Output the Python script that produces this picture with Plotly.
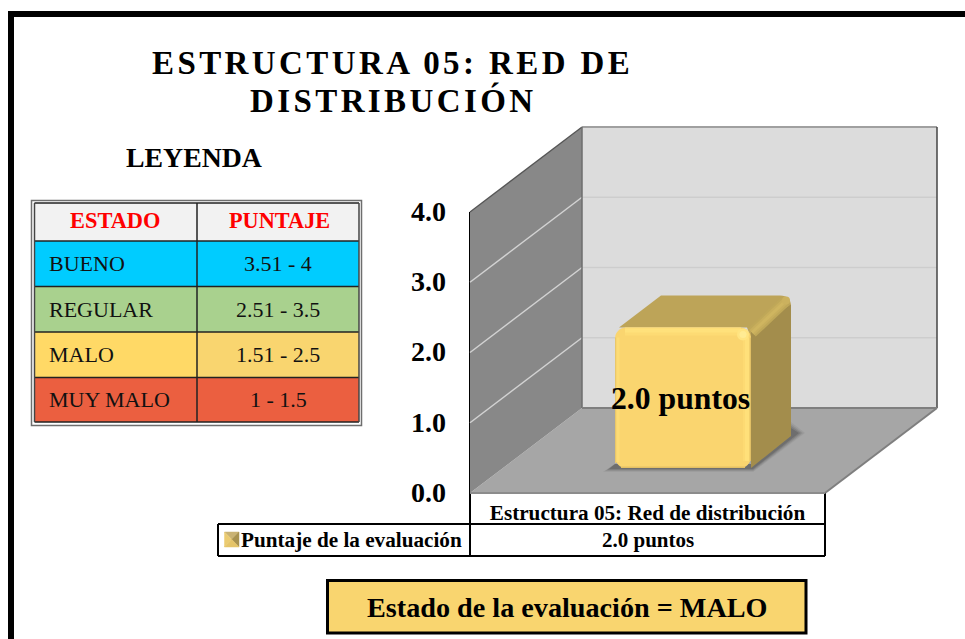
import plotly.graph_objects as go

# ---- data ----
category = ["Estructura 05: Red de distribución"]
values = [2.0]
value_ticks = [0, 1, 2, 3, 4]
tick_labels = ["0.0", "1.0", "2.0", "3.0", "4.0"]
series_name = "Puntaje de la evaluación"
unit = "puntos"
legend_states = ["BUENO", "REGULAR", "MALO", "MUY MALO"]
legend_scores = ["3.51 - 4", "2.51 - 3.5", "1.51 - 2.5", "1 - 1.5"]
legend_left_colors = ["#00CCFF", "#A9D18E", "#FFD966", "#EB5F40"]
legend_right_colors = ["#00CCFF", "#A9D18E", "#F9D56F", "#EB5F40"]
status = "MALO"

W, H = 965, 639
FONT = "Liberation Serif"

# pixel <-> axis helpers
X0, Y0 = 470.0, 493.0       # front-left floor corner
CW = 355.0                  # pixels per category
YU = 70.25                  # pixels per value unit
CX = X0 + CW / 2
def ax(px): return (px - CX) / CW
def ay(py): return (Y0 - py) / YU
def fx(px): return px / W
def fy(py): return 1 - py / H

DX, DY = 112.0, 85.0        # floor depth in pixels
VMAX = 4

def poly_d(pts):
    return "M " + " L ".join(f"{ax(x):.5f},{ay(y):.5f}" for x, y in pts) + " Z"

shapes = []
def data_poly(pts, fill, line=None, lw=0, layer="below", opacity=1):
    shapes.append(dict(type="path", path=poly_d(pts), xref="x", yref="y", fillcolor=fill, layer=layer,
                       opacity=opacity, line=dict(color=line or fill, width=lw)))
def data_line(p, q, color, w, layer="below", opacity=1):
    shapes.append(dict(type="line", xref="x", yref="y", x0=ax(p[0]), y0=ay(p[1]), x1=ax(q[0]), y1=ay(q[1]),
                       layer=layer, opacity=opacity, line=dict(color=color, width=w)))
def rect(x0, y0, x1, y1, fill="rgba(0,0,0,0)", line="rgba(0,0,0,0)", w=0, layer="below"):
    shapes.append(dict(type="rect", xref="paper", yref="paper", x0=fx(x0), y0=fy(y0), x1=fx(x1), y1=fy(y1),
                       fillcolor=fill, layer=layer, line=dict(color=line, width=w)))
def pline(x0, y0, x1, y1, color="#000", w=2, layer="below"):
    shapes.append(dict(type="line", xref="paper", yref="paper", x0=fx(x0), y0=fy(y0), x1=fx(x1), y1=fy(y1),
                       layer=layer, line=dict(color=color, width=w)))
def dot(cx, cy, r, fill, layer="above"):
    shapes.append(dict(type="circle", xref="x", yref="y", x0=ax(cx - r), x1=ax(cx + r), y0=ay(cy + r), y1=ay(cy - r),
                       fillcolor=fill, layer=layer, line=dict(width=0)))

# frame
rect(8, 11, W + 20, H + 20, line="#000", w=0, fill="#000")
rect(14, 17, W + 20, H + 20, fill="#FFF")

# walls
h = VMAX * YU
XR = X0 + CW
data_poly([(X0, Y0), (X0 + DX, Y0 - DY), (XR + DX, Y0 - DY), (XR, Y0)], "#A6A6A6")
data_poly([(X0, Y0), (X0, Y0 - h), (X0 + DX, Y0 - DY - h), (X0 + DX, Y0 - DY)], "#888888")
data_poly([(X0 + DX, Y0 - DY), (X0 + DX, Y0 - DY - h), (XR + DX, Y0 - DY - h), (XR + DX, Y0 - DY)], "#DCDCDC")
for v in value_ticks[1:-1]:
    yy = Y0 - v * YU
    data_line((X0, yy), (X0 + DX, yy - DY), "#D2D2D2", 1.5)
    data_line((X0 + DX, yy - DY), (XR + DX, yy - DY), "#CDCDCD", 1.5)
data_line((X0, Y0 - h), (X0 + DX, Y0 - DY - h), "#555555", 1.3)
data_line((X0 + DX, Y0 - DY - h), (XR + DX, Y0 - DY - h), "#A0A0A0", 2)
data_line((X0 + DX, Y0 - DY - h), (X0 + DX, Y0 - DY), "#6E6E6E", 1.5)
data_line((XR + DX, Y0 - DY - h), (XR + DX, Y0 - DY), "#444444", 1.5)
data_line((X0 + DX, Y0 - DY), (XR + DX, Y0 - DY), "#7F7F7F", 2)
data_line((XR, Y0), (XR + DX, Y0 - DY), "#7F7F7F", 2)
data_line((X0, Y0), (XR, Y0), "#8C8C8C", 2)

# 3D bar: front face is the bar trace, top and side follow from the value
BAR_LEFT, BAR_RIGHT, BAR_BOTTOM = 615.0, 751.0, 468.0
BDX, BDY = 40.0, 32.0
base = ay(BAR_BOTTOM)
bar_x = ax((BAR_LEFT + BAR_RIGHT) / 2)
bar_w = (BAR_RIGHT - BAR_LEFT) / CW
bar_top = BAR_BOTTOM - values[0] * YU

# soft shadow
for grow, op in ((6, .10), (4, .16), (2, .22), (0, .30)):
    data_poly([(BAR_LEFT - 6 - grow, BAR_BOTTOM + 1 + grow / 2), (BAR_RIGHT + 2, BAR_BOTTOM + 1 + grow / 2),
               (BAR_RIGHT + BDX + 8 + grow, BAR_BOTTOM - BDY - 3), (BAR_RIGHT + BDX, BAR_BOTTOM - BDY - 8 - grow),
               (BAR_RIGHT, BAR_BOTTOM - 4), (BAR_LEFT, BAR_BOTTOM - 4)], "#4A4A4A", opacity=op)

# top and side
r = 11
top_d = (f"M {ax(BAR_LEFT+4):.5f},{ay(bar_top):.5f} L {ax(BAR_LEFT+BDX+6):.5f},{ay(bar_top-BDY):.5f} "
         f"L {ax(BAR_RIGHT+BDX-r):.5f},{ay(bar_top-BDY):.5f} Q {ax(BAR_RIGHT+BDX):.5f},{ay(bar_top-BDY):.5f} "
         f"{ax(BAR_RIGHT+BDX):.5f},{ay(bar_top-BDY+r):.5f} L {ax(BAR_RIGHT):.5f},{ay(bar_top+r):.5f} L {ax(BAR_RIGHT-4):.5f},{ay(bar_top):.5f} Z")
shapes.append(dict(type="path", path=top_d, xref="x", yref="y", fillcolor="#BDA458", layer="below", line=dict(width=0)))
data_poly([(BAR_RIGHT, bar_top + 4), (BAR_RIGHT + BDX, bar_top - BDY + 9), (BAR_RIGHT + BDX, BAR_BOTTOM - BDY),
           (BAR_RIGHT, BAR_BOTTOM)], "#A38D4C")
# ridge between top and side, soft
ridge_a, ridge_b = (BAR_RIGHT + 1, bar_top + 5), (BAR_RIGHT + BDX - 6, bar_top - BDY + 6)
data_line(ridge_a, ridge_b, "#BFA758", 11)
data_line(ridge_a, ridge_b, "#C8AE5C", 7)
data_line(ridge_a, ridge_b, "#CFB560", 3)
dot(BAR_RIGHT + BDX - 5, bar_top - BDY + 5, 4, "#CBB15E", layer="below")

# bevel highlights over the bar front
data_line((BAR_LEFT + 10, bar_top + 4), (BAR_RIGHT - 10, bar_top + 4), "#FDDB74", 8, layer="above")
data_line((BAR_LEFT + 10, bar_top + 3), (BAR_RIGHT - 10, bar_top + 3), "#FFE17B", 4, layer="above")
data_line((BAR_RIGHT - 4, bar_top + 10), (BAR_RIGHT - 4, BAR_BOTTOM - 7), "#FDDA73", 8, layer="above")
data_line((BAR_RIGHT - 4, bar_top + 10), (BAR_RIGHT - 4, BAR_BOTTOM - 7), "#FFE07A", 4, layer="above")
data_line((BAR_RIGHT - 0.7, bar_top + 10), (BAR_RIGHT - 0.7, BAR_BOTTOM - 7), "#E2C065", 1.4, layer="above")
data_line((BAR_LEFT + 0.7, bar_top + 10), (BAR_LEFT + 0.7, BAR_BOTTOM - 5), "#E9C76A", 1.4, layer="above")
data_line((BAR_LEFT + 3, bar_top + 10), (BAR_LEFT + 3, BAR_BOTTOM - 6), "#FDDC76", 3, layer="above")
data_line((BAR_LEFT + 6, BAR_BOTTOM - 0.7), (BAR_RIGHT - 6, BAR_BOTTOM - 0.7), "#E3C064", 1.4, layer="above")
dot(BAR_RIGHT - 8, bar_top + 7, 6, "#FFE481")
dot(BAR_RIGHT - 8, bar_top + 7, 3.5, "#FFEB93")

# value table below the chart
pline(X0, Y0, X0, 556, w=2)
pline(825, Y0, 825, 556, w=2)
pline(218, 524, 825, 524, w=2)
pline(218, 556, 825, 556, w=2)
pline(218, 524, 218, 556, w=2)
pline(X0, 212, X0, Y0, w=2)
# legend key
kx0, kx1, ky0, ky1 = 224.5, 239, 532, 547
kc, kyc = (kx0 + kx1) / 2, (ky0 + ky1) / 2
for pts, col in (
    ([(kx0, ky0), (kx1, ky0), (kc, kyc)], "#C9B273"),
    ([(kx0, ky0), (kx0, ky1), (kc, kyc)], "#EBCB70"),
    ([(kx1, ky0), (kx1, ky1), (kc, kyc)], "#A8924F"),
    ([(kx0, ky1), (kx1, ky1), (kc, kyc)], "#E5C468"),
):
    data_poly(pts, col, lw=0.5, layer="above")

# legend table
rect(31.5, 200.5, 361.5, 425.5, line="#6E6E6E", w=1.5)
LX0, LX1, LXM = 34.5, 359, 197
LY = [203, 241, 286.5, 332, 377.5, 422]
rect(LX0, LY[0], LX1, LY[1], fill="#F2F2F2")
for i in range(4):
    rect(LX0, LY[i + 1], LXM, LY[i + 2], fill=legend_left_colors[i])
    rect(LXM, LY[i + 1], LX1, LY[i + 2], fill=legend_right_colors[i])
for y in LY:
    pline(LX0, y, LX1, y, color="#222222", w=1.5)
pline(LX0, LY[0], LX0, LY[-1], color="#444444", w=1.5)
pline(LX1, LY[0], LX1, LY[-1], color="#444444", w=1.5)
pline(LXM, LY[0], LXM, LY[-1], color="#222222", w=1.5)

# status box
rect(327.5, 580.5, 806, 633, fill="#F9D56F", line="#000", w=3)

anns = []
def txt(s, x, y, size, bold=True, color="#000", anchor="center"):
    anns.append(dict(text=f"<b>{s}</b>" if bold else s, xref="paper", yref="paper", x=fx(x), y=fy(y), xanchor=anchor,
                     yanchor="middle", showarrow=False, font=dict(family=FONT, size=size, color=color)))

spaced = '<span style="letter-spacing:3.4px">{}</span>'
txt(spaced.format("ESTRUCTURA 05: RED DE"), 392.5, 63, 33)
txt(spaced.format("DISTRIBUCIÓN"), 393, 100, 33)
txt("LEYENDA", 194, 157.5, 27.8)
txt("ESTADO", 115, 220.5, 22.4, color="#FF0000")
txt("PUNTAJE", 279, 220.5, 22.3, color="#FF0000")
for i, (a, b) in enumerate(zip(legend_states, legend_scores)):
    yc = (LY[i + 1] + LY[i + 2]) / 2
    txt(a, 47, yc, 22, bold=False, color="#111", anchor="left")
    txt(b, 278, yc, 22, bold=False, color="#111")
txt(series_name, 239, 540, 21.2, anchor="left")
txt(f"{values[0]:.1f} {unit}", 647.5, 540, 21)
txt(f"Estado de la evaluación = {status}", 567, 607, 28.2)

# value label anchored to the bar via data coordinates
anns.append(dict(text=f"<b>{values[0]:.1f} {unit}</b>", xref="x", yref="y", x=bar_x, y=base + values[0] / 2,
                 xshift=-3, yshift=-1, yanchor="middle", xanchor="center", showarrow=False,
                 font=dict(family=FONT, size=31.7, color="#000")))

fig = go.Figure(go.Bar(x=[bar_x], y=values, base=[base], width=[bar_w], name=series_name,
                       marker=dict(color="#FAD56F", line=dict(width=0)),
                       hovertemplate="%{y:.1f} puntos<extra></extra>"))
fig.update_layout(
    width=W, height=H, margin=dict(l=0, r=0, t=0, b=0), autosize=False,
    paper_bgcolor="#FFFFFF", plot_bgcolor="rgba(0,0,0,0)", showlegend=False,
    barcornerradius=11, shapes=shapes, annotations=anns,
    xaxis=dict(domain=[0, 1], range=[ax(0), ax(W)], anchor="free", position=fy(Y0), side="bottom",
               tickmode="array", tickvals=[0], ticktext=[f"<b>{category[0]}</b>"],
               tickfont=dict(family=FONT, size=21.2, color="#000"), ticks="", ticklabelstandoff=5,
               showgrid=False, zeroline=False, showline=False, tickangle=0),
    yaxis=dict(domain=[0, 1], range=[ay(H), ay(0)], anchor="free", position=fx(X0), side="left",
               tickmode="array", tickvals=value_ticks, ticktext=[f"<b>{t}</b>" for t in tick_labels],
               tickfont=dict(family=FONT, size=28, color="#000"), ticks="", ticklabelstandoff=24,
               ticklabelshift=-1,
               showgrid=False, zeroline=False, showline=False),
)
fig.write_html("out.html", config=dict(displayModeBar=False),
               post_script="document.body.style.margin='0';document.body.style.overflow='hidden';")
